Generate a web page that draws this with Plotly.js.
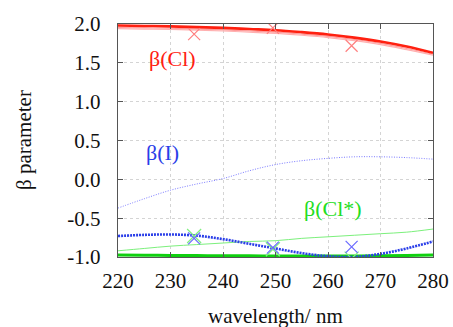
<!DOCTYPE html>
<html><head><meta charset="utf-8">
<script src="https://cdn.plot.ly/plotly-3.0.1.min.js"></script>
<style>body{margin:0;background:#fff}#c{width:453px;height:327px}</style>
</head><body><div id="c"></div>
<script>
const wl = [220, 225, 230, 235, 240, 245, 250, 255, 260, 265, 270, 275, 280];
const betaCl = [1.98, 1.975, 1.97, 1.96, 1.95, 1.935, 1.92, 1.895, 1.865, 1.825, 1.775, 1.71, 1.63];
const betaClPaleA = [1.955, 1.95, 1.945, 1.935, 1.925, 1.91, 1.895, 1.87, 1.84, 1.80, 1.75, 1.685, 1.61];
const betaClPaleB = [1.94, 1.935, 1.93, 1.92, 1.91, 1.895, 1.88, 1.855, 1.825, 1.785, 1.735, 1.67, 1.60];
const betaIthin = [-0.37, -0.25, -0.14, -0.06, 0.01, 0.11, 0.19, 0.24, 0.27, 0.29, 0.29, 0.28, 0.26];
const betaIthick = [-0.73, -0.715, -0.71, -0.725, -0.77, -0.83, -0.89, -0.95, -0.99, -1.0, -0.96, -0.89, -0.80];
const betaClStarThin = [-0.92, -0.89, -0.86, -0.84, -0.82, -0.80, -0.79, -0.76, -0.74, -0.72, -0.70, -0.68, -0.64];
const betaClStarThick = [-0.975, -0.977, -0.98, -0.982, -0.984, -0.985, -0.986, -0.987, -0.987, -0.986, -0.984, -0.98, -0.975];
const expWl = [234.5, 249.5, 264.5];
const expCl = [1.87, 1.95, 1.72];
const expI = [-0.76, -0.88, -0.87];
const expClStar = [-0.73, -0.90, -1.02];
const xTicks = [220, 230, 240, 250, 260, 270, 280];
const xTickText = ['220', '230', '240', '250', '260', '270', '280'];
const yTicks = [-1, -0.5, 0, 0.5, 1, 1.5, 2];
const yTickText = ['-1.0', '-0.5', '0.0', '0.5', '1.0', '1.5', '2.0'];

const traces = [
  {x: wl, y: betaClPaleA, mode: 'lines', line: {color: '#ff9a9a', width: 1.2, shape: 'spline'}},
  {x: wl, y: betaClPaleB, mode: 'lines', line: {color: '#ffb0b0', width: 1.2, shape: 'spline'}},
  {x: wl, y: betaCl, mode: 'lines', line: {color: '#ff2010', width: 2.6, shape: 'spline'}},
  {x: wl, y: betaIthin, mode: 'lines', line: {color: '#7a7aff', width: 1, dash: '1px,1.5px', shape: 'spline'}},
  {x: wl, y: betaClStarThin, mode: 'lines', line: {color: '#7cf07c', width: 1, shape: 'spline'}},
  {x: wl, y: betaClStarThick, mode: 'lines', line: {color: '#10d010', width: 3, shape: 'spline'}},
  {x: wl, y: betaIthick, mode: 'lines', line: {color: '#2a3ee8', width: 2.6, dash: '2px,1px', shape: 'spline'}},
  {x: expWl, y: expCl, mode: 'markers', marker: {symbol: 'x-thin-open', size: 12, color: '#ff8080', line: {width: 1.2, color: '#ff8080'}}},
  {x: expWl, y: expClStar, mode: 'markers', marker: {symbol: 'x-thin-open', size: 14, color: '#80f080', line: {width: 1.2, color: '#80f080'}}},
  {x: expWl, y: expI, mode: 'markers', marker: {symbol: 'x-thin-open', size: 12, color: '#6a6aff', line: {width: 1.2, color: '#6a6aff'}}}
];

const serif = '"Times New Roman", "Liberation Serif", serif';
const tickFont = {family: serif, size: 21, color: '#111'};
const layout = {
  width: 453, height: 327,
  margin: {l: 118, r: 20, t: 24, b: 70},
  showlegend: false,
  paper_bgcolor: '#fff', plot_bgcolor: '#fff',
  font: {family: serif, color: '#111', size: 21},
  xaxis: {
    range: [220, 280], tickmode: 'array', tickvals: xTicks, ticktext: xTickText,
    showgrid: true, gridcolor: '#d4d4d4', griddash: '3px,3px', gridwidth: 1,
    zeroline: false, showline: true, linecolor: '#555', linewidth: 1.2, mirror: 'ticks',
    ticks: 'inside', ticklen: 5, tickcolor: '#555', ticklabelstandoff: 5,
    tickfont: tickFont
  },
  yaxis: {
    range: [-1, 2], tickmode: 'array', tickvals: yTicks, ticktext: yTickText,
    showgrid: true, gridcolor: '#d4d4d4', griddash: '3px,3px', gridwidth: 1,
    zeroline: false, showline: true, linecolor: '#555', linewidth: 1.2, mirror: 'ticks',
    ticks: 'inside', ticklen: 5, tickcolor: '#555', ticklabelstandoff: 12,
    tickfont: tickFont
  },
  annotations: [
    {x: 225.5, y: 1.55, text: 'β(Cl)', showarrow: false, xanchor: 'left', font: {family: serif, size: 22, color: '#ff2010'}},
    {x: 225, y: 0.35, text: 'β(I)', showarrow: false, xanchor: 'left', font: {family: serif, size: 22, color: '#2a3ee8'}},
    {x: 255, y: -0.38, text: 'β(Cl*)', showarrow: false, xanchor: 'left', font: {family: serif, size: 22, color: '#22dd22'}},
    {xref: 'paper', yref: 'paper', x: -0.3, y: 0.5, xanchor: 'center', yanchor: 'middle', textangle: -90, text: 'β parameter', showarrow: false, font: {family: serif, size: 21, color: '#111'}},
    {xref: 'paper', yref: 'paper', x: 0.5, y: 0, yshift: -59, xanchor: 'center', yanchor: 'middle', text: 'wavelength/ nm', showarrow: false, font: {family: serif, size: 21, color: '#111'}}
  ]
};
Plotly.newPlot('c', traces, layout, {displayModeBar: false, staticPlot: true});
</script></body></html>
